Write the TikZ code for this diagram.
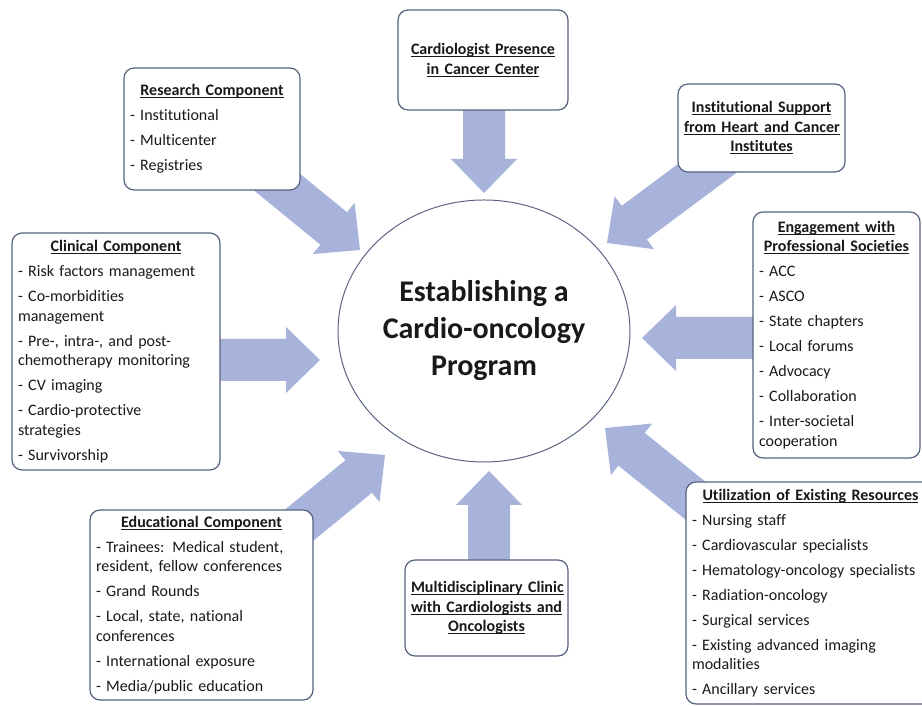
\documentclass[tikz,border=0pt]{standalone}
\usepackage{fontspec}
\setmainfont{Carlito}[Ligatures={TeX,NoCommon}]
\usetikzlibrary{calc,shapes.geometric,backgrounds}
\setlength{\parindent}{0pt}

\definecolor{arrowblue}{RGB}{167,179,219}
\definecolor{boxline}{RGB}{86,97,128}
\definecolor{hubline}{RGB}{92,102,132}
\definecolor{inktext}{RGB}{25,25,25}

\newcommand{\undl}[1]{\leavevmode\setbox0\hbox{#1}\rlap{\rule[-2.4pt]{\wd0}{0.9pt}}\box0}
\newcommand{\boxtitle}[1]{{\centering\bfseries #1\par}}
\newcommand{\entry}{\par\vspace{5.5pt}}

\begin{document}
\begin{tikzpicture}[x = 1pt,
                    y = 1pt,
                    infobox/.style = {draw = boxline, line width = 1.2pt, rounded corners = 10pt,
                                      fill = white, text = inktext, align = left,
                                      inner xsep = 6pt, inner ysep = 0pt,
                                      font = \fontsize{16}{19.5}\selectfont},
                    hub/.style = {ellipse, draw = hubline, line width = 1pt, fill = white,
                                  text = inktext, inner sep = 0pt, align = center,
                                  minimum width = 292pt, minimum height = 262pt,
                                  font = \fontsize{30}{37}\selectfont\bfseries}]

    \useasboundingbox (0,0) rectangle (922,706);
    \begin{scope}[on background layer]
        \fill[white] (0,0) rectangle (922,706);
    \end{scope}

    % centre
    \node[hub] (hub) at (484,375) {Establishing a\\Cardio-oncology\\Program};

    % surrounding boxes
    \node[infobox, text width = 164pt, minimum height = 122pt] (research) at (212,577)
        {\boxtitle{\undl{Research Component}}
         \entry - Institutional
         \entry - Multicenter
         \entry - Registries};
    \node[infobox, text width = 158pt, minimum height = 100pt] (cardio) at (483,646)
        {\boxtitle{\undl{Cardiologist Presence}\\\undl{in Cancer Center}}};
    \node[infobox, text width = 155pt, minimum height = 88pt] (support) at (761.5,578)
        {\boxtitle{\undl{Institutional Support}\\\undl{from Heart and Cancer}\\\undl{Institutes}}};
    \node[infobox, text width = 196pt, minimum height = 237pt] (clinical) at (116,354.5)
        {\boxtitle{\undl{Clinical Component}}
         \entry - Risk factors management
         \entry - Co-morbidities\\management
         \entry - Pre-, intra-, and post-\\chemotherapy monitoring
         \entry - CV imaging
         \entry - Cardio-protective\\strategies
         \entry - Survivorship};
    \node[infobox, text width = 155pt, minimum height = 246pt] (societies) at (836.5,371)
        {\boxtitle{\undl{Engagement with}\\\undl{Professional Societies}}
         \entry - ACC
         \entry - ASCO
         \entry - State chapters
         \entry - Local forums
         \entry - Advocacy
         \entry - Collaboration
         \entry - Inter-societal\\cooperation};
    \node[infobox, text width = 237pt, minimum height = 222pt] (resources) at (810.5,113)
        {\boxtitle{\undl{Utilization of Existing Resources}}
         \entry - Nursing staff
         \entry - Cardiovascular specialists
         \entry - Hematology-oncology specialists
         \entry - Radiation-oncology
         \entry - Surgical services
         \entry - Existing advanced imaging\\modalities
         \entry - Ancillary services};
    \node[infobox, text width = 211pt, minimum height = 190pt] (education) at (201.5,101)
        {\boxtitle{\undl{Educational Component}}
         \entry - Trainees: Medical student,\\resident, fellow conferences
         \entry - Grand Rounds
         \entry - Local, state, national\\conferences
         \entry - International exposure
         \entry - Media/public education};
    \node[infobox, text width = 151pt, minimum height = 96pt] (clinic) at (486.5,98)
        {\boxtitle{\undl{Multidisciplinary Clinic}\\\undl{with Cardiologists and}\\\undl{Oncologists}}};

    % arrow tips next to the centre
    \coordinate (kTip) at (484,513);
    \coordinate (mTip) at (489,235);
    \coordinate (cTip) at (320,346);
    \coordinate (sTip) at (642,368);
    \coordinate (rTip) at (360,456);
    \coordinate (uTip) at (607,463);
    \coordinate (eTip) at (385,251);
    \coordinate (xTip) at (605,278);
    \coordinate (k0) at (kTip |- cardio.center);
    \coordinate (m0) at (mTip |- clinic.center);
    \coordinate (c0) at (clinical.center |- cTip);
    \coordinate (s0) at (societies.center |- sTip);

    \begin{scope}[on background layer]
        \foreach \s/\t in {k0/kTip,
                           m0/mTip,
                           c0/cTip,
                           s0/sTip,
                           research/rTip,
                           support/uTip,
                           education/eTip,
                           resources/xTip}
        {
            \coordinate (B) at ($(\t)!34pt!(\s)$);
            \fill[arrowblue] ($(\s)!21pt!90:(\t)$) -- ($(B)!21pt!90:(\t)$)
                -- ($(B)!33pt!90:(\t)$) -- (\t) -- ($(B)!33pt!-90:(\t)$)
                -- ($(B)!21pt!-90:(\t)$) -- ($(\s)!21pt!-90:(\t)$) -- cycle;
        }
    \end{scope}
\end{tikzpicture}
\end{document}
